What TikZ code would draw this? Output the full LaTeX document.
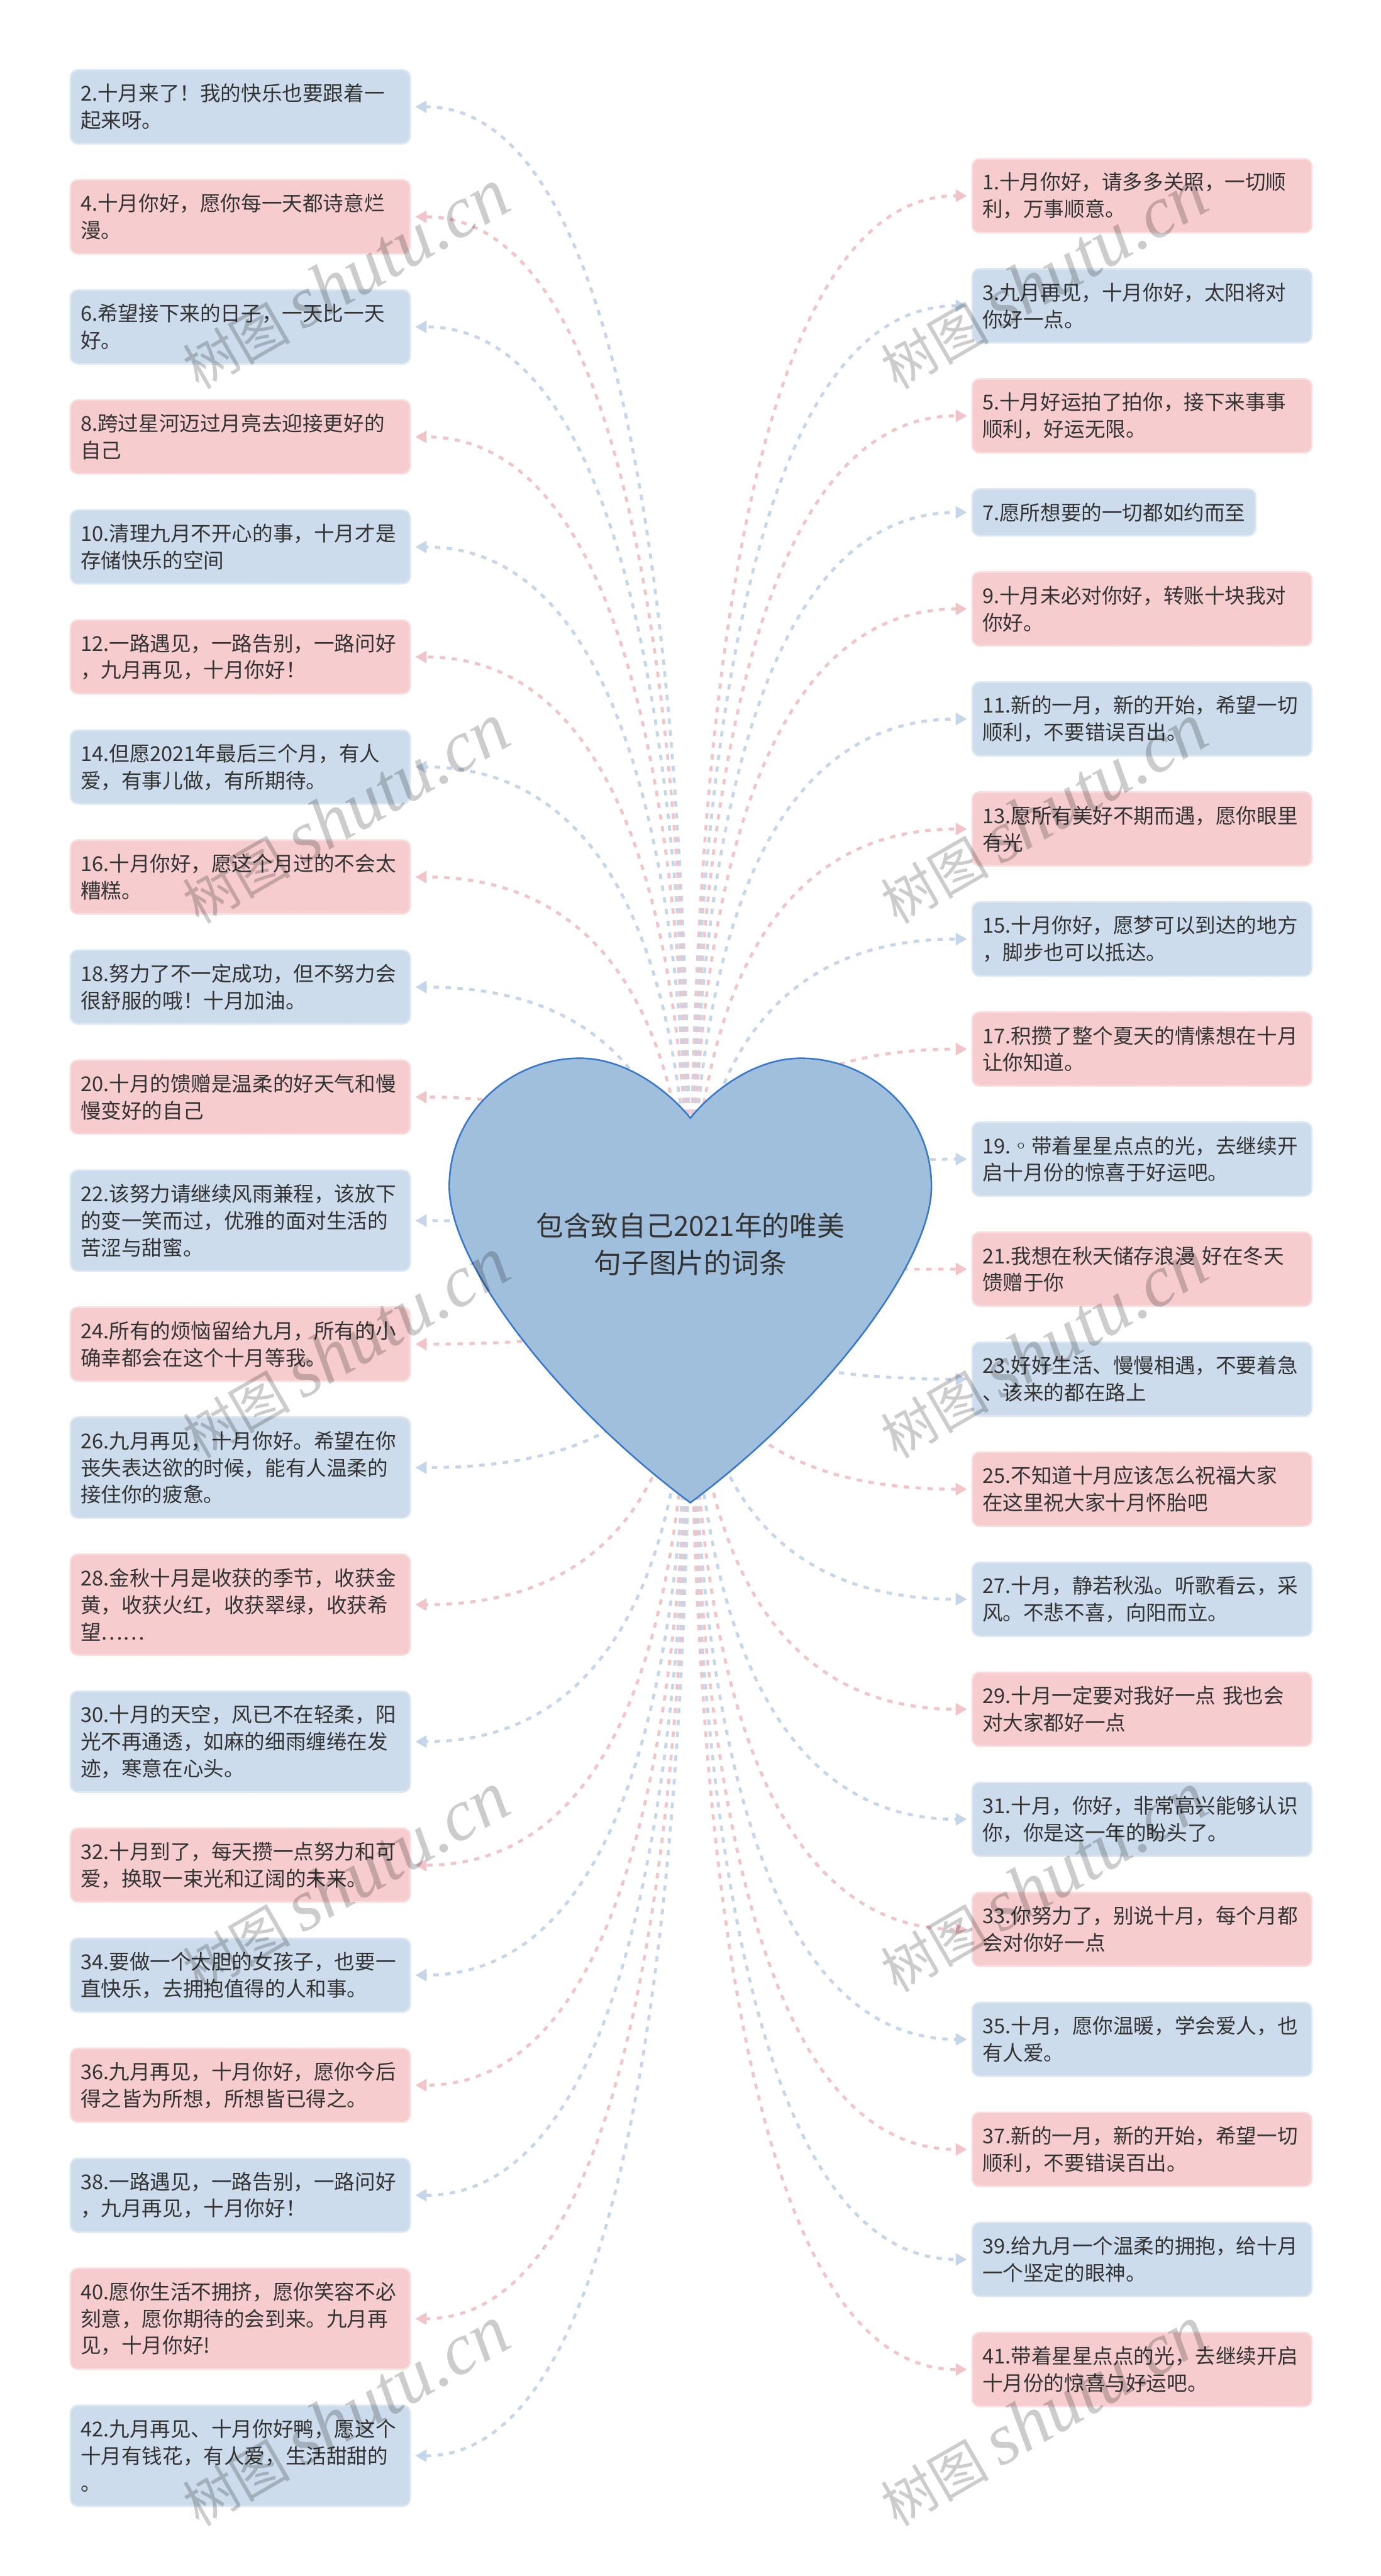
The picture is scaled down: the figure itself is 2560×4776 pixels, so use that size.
\documentclass[tikz,border=0pt]{standalone}
\usepackage{fontspec}
\setmainfont{Noto Sans CJK SC}
\newfontfamily\wmlatin{Liberation Serif}
\usetikzlibrary{arrows.meta,calc}
\definecolor{pinkfill}{HTML}{F6CCCE}
\definecolor{bluefill}{HTML}{CCDCEC}
\definecolor{pinkline}{HTML}{F8DEDF}
\definecolor{blueline}{HTML}{DEE8F2}
\definecolor{cpinkc}{HTML}{F0C4C8}
\definecolor{cbluec}{HTML}{C4D6E8}
\definecolor{heartfill}{HTML}{A0BFDC}
\definecolor{heartline}{HTML}{3A78C8}
\definecolor{txt}{HTML}{333333}
\tikzset{
  box/.style={rounded corners=14pt, line width=3pt, text=txt,
    font=\fontsize{38}{50}\selectfont, align=left, inner xsep=19pt,
    inner ysep=10pt, anchor=north west},
  pk/.style={box, fill=pinkfill, draw=pinkline},
  bl/.style={box, fill=bluefill, draw=blueline},
  tw/.style={text width=592pt},
  Lone/.style={minimum height=87pt},
  Ltwo/.style={minimum height=137pt},
  Lthree/.style={minimum height=187pt},
  conn/.style={line width=5.5pt, dash pattern=on 10pt off 12pt,
    shorten >=8pt, -{Triangle[length=21pt,width=22pt]}},
  cp/.style={conn, draw=cpinkc},
  cb/.style={conn, draw=cbluec},
  heart/.style={fill=heartfill, draw=heartline, line width=3pt},
  wm/.style={text=black, text opacity=0.2, rotate=30, inner sep=0pt}
}
\begin{document}
\begin{tikzpicture}[x=1pt,y=-1pt]
\useasboundingbox (0,0) rectangle (2560,4776);
\fill[white] (0,0) rectangle (2560,4776);
% left column
\node[bl,tw,Ltwo] (n2) at (129,128) {2.十月来了！我的快乐也要跟着一\\起来呀。};
\node[pk,tw,Ltwo] (n4) at (129,332) {4.十月你好，愿你每一天都诗意烂\\漫。};
\node[bl,tw,Ltwo] (n6) at (129,536) {6.希望接下来的日子，一天比一天\\好。};
\node[pk,tw,Ltwo] (n8) at (129,740) {8.跨过星河迈过月亮去迎接更好的\\自己};
\node[bl,tw,Ltwo] (n10) at (129,944) {10.清理九月不开心的事，十月才是\\存储快乐的空间};
\node[pk,tw,Ltwo] (n12) at (129,1148) {12.一路遇见，一路告别，一路问好\\，九月再见，十月你好！};
\node[bl,tw,Ltwo] (n14) at (129,1352) {14.但愿2021年最后三个月，有人\\爱，有事儿做，有所期待。};
\node[pk,tw,Ltwo] (n16) at (129,1556) {16.十月你好，愿这个月过的不会太\\糟糕。};
\node[bl,tw,Ltwo] (n18) at (129,1760) {18.努力了不一定成功，但不努力会\\很舒服的哦！十月加油。};
\node[pk,tw,Ltwo] (n20) at (129,1964) {20.十月的馈赠是温柔的好天气和慢\\慢变好的自己};
\node[bl,tw,Lthree] (n22) at (129,2168) {22.该努力请继续风雨兼程，该放下\\的变一笑而过，优雅的面对生活的\\苦涩与甜蜜。};
\node[pk,tw,Ltwo] (n24) at (129,2422) {24.所有的烦恼留给九月，所有的小\\确幸都会在这个十月等我。};
\node[bl,tw,Lthree] (n26) at (129,2626) {26.九月再见，十月你好。希望在你\\丧失表达欲的时候，能有人温柔的\\接住你的疲惫。};
\node[pk,tw,Lthree] (n28) at (129,2880) {28.金秋十月是收获的季节，收获金\\黄，收获火红，收获翠绿，收获希\\望……};
\node[bl,tw,Lthree] (n30) at (129,3134) {30.十月的天空，风已不在轻柔，阳\\光不再通透，如麻的细雨缠绻在发\\迹，寒意在心头。};
\node[pk,tw,Ltwo] (n32) at (129,3388) {32.十月到了，每天攒一点努力和可\\爱，换取一束光和辽阔的未来。};
\node[bl,tw,Ltwo] (n34) at (129,3592) {34.要做一个大胆的女孩子，也要一\\直快乐，去拥抱值得的人和事。};
\node[pk,tw,Ltwo] (n36) at (129,3796) {36.九月再见，十月你好，愿你今后\\得之皆为所想，所想皆已得之。};
\node[bl,tw,Ltwo] (n38) at (129,4000) {38.一路遇见，一路告别，一路问好\\，九月再见，十月你好！};
\node[pk,tw,Lthree] (n40) at (129,4204) {40.愿你生活不拥挤，愿你笑容不必\\刻意，愿你期待的会到来。九月再\\见，十月你好!};
\node[bl,tw,Lthree] (n42) at (129,4458) {42.九月再见、十月你好鸭，愿这个\\十月有钱花，有人爱，生活甜甜的\\。};
% right column
\node[pk,tw,Ltwo] (n1) at (1801,293) {1.十月你好，请多多关照，一切顺\\利，万事顺意。};
\node[bl,tw,Ltwo] (n3) at (1801,497) {3.九月再见，十月你好，太阳将对\\你好一点。};
\node[pk,tw,Ltwo] (n5) at (1801,701) {5.十月好运拍了拍你，接下来事事\\顺利，好运无限。};
\node[bl,Lone] (n7) at (1801,905) {7.愿所想要的一切都如约而至};
\node[pk,tw,Ltwo] (n9) at (1801,1059) {9.十月未必对你好，转账十块我对\\你好。};
\node[bl,tw,Ltwo] (n11) at (1801,1263) {11.新的一月，新的开始，希望一切\\顺利，不要错误百出。};
\node[pk,tw,Ltwo] (n13) at (1801,1467) {13.愿所有美好不期而遇，愿你眼里\\有光};
\node[bl,tw,Ltwo] (n15) at (1801,1671) {15.十月你好，愿梦可以到达的地方\\，脚步也可以抵达。};
\node[pk,tw,Ltwo] (n17) at (1801,1875) {17.积攒了整个夏天的情愫想在十月\\让你知道。};
\node[bl,tw,Ltwo] (n19) at (1801,2079) {19.◦带着星星点点的光，去继续开\\启十月份的惊喜于好运吧。};
\node[pk,tw,Ltwo] (n21) at (1801,2283) {21.我想在秋天储存浪漫 好在冬天\\馈赠于你};
\node[bl,tw,Ltwo] (n23) at (1801,2487) {23.好好生活、慢慢相遇，不要着急\\、该来的都在路上};
\node[pk,tw,Ltwo] (n25) at (1801,2691) {25.不知道十月应该怎么祝福大家\\在这里祝大家十月怀胎吧};
\node[bl,tw,Ltwo] (n27) at (1801,2895) {27.十月，静若秋泓。听歌看云，采\\风。不悲不喜，向阳而立。};
\node[pk,tw,Ltwo] (n29) at (1801,3099) {29.十月一定要对我好一点 我也会\\对大家都好一点};
\node[bl,tw,Ltwo] (n31) at (1801,3303) {31.十月，你好，非常高兴能够认识\\你，你是这一年的盼头了。};
\node[pk,tw,Ltwo] (n33) at (1801,3507) {33.你努力了，别说十月，每个月都\\会对你好一点};
\node[bl,tw,Ltwo] (n35) at (1801,3711) {35.十月，愿你温暖，学会爱人，也\\有人爱。};
\node[pk,tw,Ltwo] (n37) at (1801,3915) {37.新的一月，新的开始，希望一切\\顺利，不要错误百出。};
\node[bl,tw,Ltwo] (n39) at (1801,4119) {39.给九月一个温柔的拥抱，给十月\\一个坚定的眼神。};
\node[pk,tw,Ltwo] (n41) at (1801,4323) {41.带着星星点点的光，去继续开启\\十月份的惊喜与好运吧。};
% connectors from the heart centre
\coordinate (hc) at (1280,2375);
\foreach \nn/\cc in {n2/cb,n4/cp,n6/cb,n8/cp,n10/cb,n12/cp,n14/cb,n16/cp,n18/cb,n20/cp,n22/cb,n24/cp,n26/cb,n28/cp,n30/cb,n32/cp,n34/cb,n36/cp,n38/cb,n40/cp,n42/cb}{
  \draw[\cc] (hc) .. controls ($(hc)!0.6667!(hc|-\nn.east)$) and ($(\nn.east)!0.6667!(hc|-\nn.east)$) .. (\nn.east);
}
\foreach \nn/\cc in {n1/cp,n3/cb,n5/cp,n7/cb,n9/cp,n11/cb,n13/cp,n15/cb,n17/cp,n19/cb,n21/cp,n23/cb,n25/cp,n27/cb,n29/cp,n31/cb,n33/cp,n35/cb,n37/cp,n39/cb,n41/cp}{
  \draw[\cc] (hc) .. controls ($(hc)!0.6667!(hc|-\nn.west)$) and ($(\nn.west)!0.6667!(hc|-\nn.west)$) .. (\nn.west);
}
% heart
\path[heart] (1280,2073) .. controls (1250,2035) and (1170,1962) .. (1075,1962)
  .. controls (950,1962) and (833,2060) .. (833,2200)
  .. controls (833,2340) and (1030,2600) .. (1280,2786)
  .. controls (1530,2600) and (1727,2340) .. (1727,2200)
  .. controls (1727,2060) and (1610,1962) .. (1485,1962)
  .. controls (1390,1962) and (1310,2035) .. (1280,2073) -- cycle;
\node[text=txt, align=center, font=\fontsize{51}{69}\selectfont] (root) at (1280,2307) {包含致自己2021年的唯美\\句子图片的词条};
% watermarks
\foreach \wx/\wy [count=\k] in {640/518,1935/518,640/1509,1935/1509,640/2500,1935/2500,640/3490,1935/3490,640/4480,1935/4480}{
  \node[wm] (wm\k) at (\wx,\wy) {\fontsize{100}{100}\selectfont 树图\hspace{22pt}{\wmlatin\itshape\fontsize{135}{135}\selectfont shutu.cn}};
}
\end{tikzpicture}
\end{document}
